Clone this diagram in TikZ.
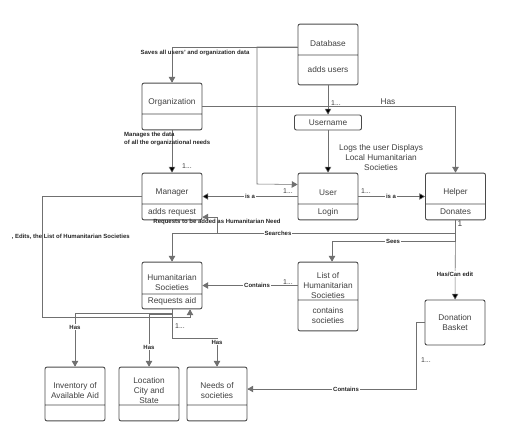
\documentclass[tikz,border=0pt]{standalone}
\usepackage{fontspec}
\setmainfont{Liberation Sans}
\usetikzlibrary{arrows,positioning,calc,shapes.multipart}
\definecolor{boxgray}{HTML}{4A4A4A}
\definecolor{linegray}{HTML}{707070}
\definecolor{txtgray}{HTML}{404040}
\newcommand{\headcell}[2]{\parbox[c][#1pt][c]{60pt}{\centering\vspace*{8pt}#2}}
\newcommand{\bodycell}[2]{\parbox[c][#1pt][c]{60pt}{\centering #2}}
\tikzset{main base/.style={draw=boxgray,line width=0.9pt,text=txtgray,font=\fontsize{8.3}{10}\selectfont, }, }
\tikzset{main node/.style={rectangle,rounded corners=2pt,main base,inner sep=0pt}, }
\tikzset{main split/.style={main node,rectangle split,rectangle split parts=2}, }
\tikzset{main node2/.style={main node,align=center,minimum width=60pt,minimum height=45pt}, }
\tikzset{linea/.style={-triangle 60,draw=linegray,line width=0.55pt}}
\tikzset{lab/.style={font=\bfseries\fontsize{6}{8}\selectfont,text=black!85,inner sep=1pt}, }
\tikzset{lab2/.style={lab,fill=white}, }
\tikzset{card/.style={font=\fontsize{7}{8}\selectfont,text=txtgray,inner sep=0pt}, }
\begin{document}
\begin{tikzpicture}[x=1pt,y=-1pt]
  \useasboundingbox (0,0) rectangle (508,432);
    \node[main split] (1) at (328,54.5) {\headcell{30}{Database}\nodepart{two}\bodycell{29}{adds users}};
    \node[main split] (2) at (172,106.5) {\headcell{30}{Organization}\nodepart{two}\bodycell{15}{}};
    \node[main node,minimum width=67pt,minimum height=15pt] (3) at (328,122.5) {Username};
    \node[main split] (4) at (328,196.5) {\headcell{30}{User}\nodepart{two}\bodycell{15}{Login}};
    \node[main split] (5) at (172,196.5) {\headcell{30}{Manager}\nodepart{two}\bodycell{15}{adds request}};
    \node[main split] (6) at (455.5,196.5) {\headcell{30}{Helper}\nodepart{two}\bodycell{15}{Donates}};
    \node[main split] (7) at (172,285.5) {\headcell{31}{Humanitarian\\Societies}\nodepart{two}\bodycell{14}{Requests aid}};
    \node[main split] (8) at (328,296.5) {\headcell{37}{List of\\Humanitarian\\Societies}\nodepart{two}\bodycell{30}{contains\\societies}};
    \node[main node2] (9) at (455,322.5) {Donation\\Basket};
    \node[main split] (10) at (75,394) {\headcell{37}{Inventory of\\Available Aid}\nodepart{two}\bodycell{15}{}};
    \node[main split] (11) at (149,394) {\headcell{37}{Location\\City and\\State}\nodepart{two}\bodycell{15}{}};
    \node[main split] (12) at (217,394) {\headcell{37}{Needs of\\societies}\nodepart{two}\bodycell{15}{}};
    %
    \coordinate (c1) at (257,184);
    \coordinate (c2) at (300,233);
    \coordinate (c3) at (217,233);
    \coordinate (c4) at (332,241);
    \coordinate (c5) at (42,317);
    %
\foreach \x /\y in{1/3,3/4,2/5,4/5,4/6,6/9}
  \path[linea] (\x) edge node {} (\y);
  \draw[linea] ([yshift=7.5pt]1.west) -| (2.north);
  \draw[linea] ([yshift=7.5pt]1.west) -| (c1) -- ([yshift=12pt]4.west);
  \draw[linea] (2.east) -| (6.north);
  \draw[linea] (6.south) |- (c2) -| (7.north);
  \draw[linea] (6.south) |- (c3) |- ([yshift=-20.5pt]5.east);
  \draw[linea] (6.south) |- (c4) -- (c4 |- 8.north);
  \draw[linea] (8.west |- 7.east) -- (7.east);
  \draw[linea] (7.south) -- ++(0,4) -| (10.north);
  \draw[linea] (7.south) -- ++(0,5) -| (11.north);
  \draw[linea] (7.south) -- ++(0,29) -| (12.north);
  \draw[linea] (5.west) -| (c5) -| ([xshift=18pt]7.south);
  \draw[linea] (9.west) -- ++(-8,0) |- ([yshift=5pt]12.east);
    %
    \node[lab] (l1) at (195,53) {Saves all users' and organization data};
    \node[lab,align=left,anchor=west] (l2) at (123,139) {Manages the data\\of all the organizational needs};
    \node[card] (l3) at (187,166) {1...};
    \node[card] (l4) at (336,103) {1...};
    \node[main base,draw=none,inner sep=0pt] (l5) at (388,102) {Has};
    \node[main base,draw=none,align=center,inner sep=0pt] (l6) at (381,158) {Logs the user Displays\\Local Humanitarian\\Societies};
    \node[lab2] (l7) at (250,196.5) {is a};
    \node[card] (l8) at (288,191) {1...};
    \node[card] (l9) at (366,191) {1...};
    \node[lab2] (l10) at (391,196.5) {is a};
    \node[main base,draw=none,inner sep=0pt] (l11) at (460,224) {1};
    \node[lab] (l12) at (217,222) {Requests to be added as Humanitarian Need};
    \node[lab2] (l13) at (278,233) {Searches};
    \node[lab2] (l14) at (393,241) {Sees};
    \node[lab2] (l15) at (455,274) {Has/Can edit};
    \node[lab,anchor=east] (l16) at (131,237) {, Edits, the List of Humanitarian Societies};
    \node[lab2] (l17) at (257,285.5) {Contains};
    \node[card] (l18) at (288,282) {1...};
    \node[lab2] (l19) at (75,327) {Has};
    \node[lab2] (l20) at (149,347) {Has};
    \node[lab2] (l21) at (217,342) {Has};
    \node[card] (l22) at (180,326) {1...};
    \node[card] (l23) at (426,360) {1...};
    \node[lab2] (l24) at (346,389) {Contains};
%  
\end{tikzpicture}
\end{document}
